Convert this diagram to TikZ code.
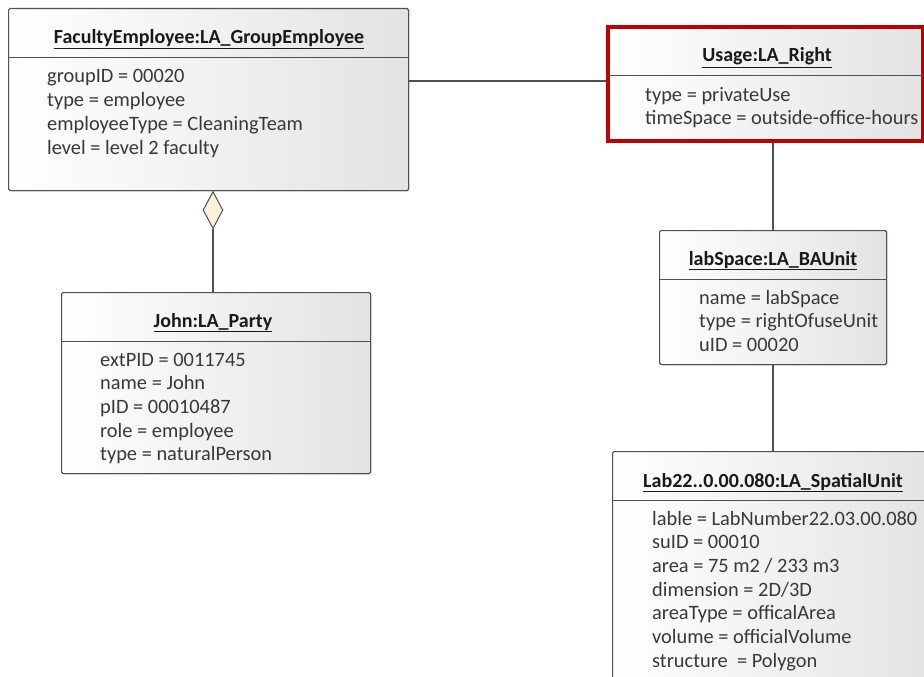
\documentclass[tikz,border=0pt]{standalone}
\usepackage{fontspec}
\setmainfont{Carlito}
\usepackage{xcolor}
\usetikzlibrary{shadows,shapes.geometric}
\definecolor{umlline}{HTML}{505050}
\definecolor{umlred}{HTML}{C00000}
\definecolor{diafill}{HTML}{FAF0DC}

\begin{document}
\begin{tikzpicture}[x=1pt,y=-1pt,
  obj/.style={draw=umlline,line width=1.1pt,rounded corners=1.5pt,left color=white,right color=black!11,
    drop shadow={opacity=0.2,shadow xshift=1.5pt,shadow yshift=-1.5pt},anchor=north west,inner sep=0pt},
  ttl/.style={font=\fontsize{20}{24}\selectfont\bfseries,text=black!90,inner sep=0pt,anchor=base},
  attr/.style={font=\fontsize{20.4}{24}\selectfont,text=black!78,inner sep=0pt,anchor=base west},
  sep/.style={draw=umlline,line width=0.9pt},
  link/.style={draw=umlline,line width=1.1pt}]
\useasboundingbox (0,0) rectangle (924,677);
\clip (0,0) rectangle (924,677);

% FacultyEmployee
\node[obj,minimum width=400pt,minimum height=182pt] (fac) at (8,8) {};
\draw[sep] (fac.west |- 0,57) -- (fac.east |- 0,57);
\node[ttl] (facT) at (209,44) {\underline{FacultyEmployee:LA\_GroupEmployee}};
\foreach \t [count=\i] in {groupID = 00020,type = employee,employeeType = CleaningTeam,level = level 2 faculty}
  \node[attr] (fac-\i) at (47,83+23.7*\i-23.7) {\t};

% Usage
\node[obj,draw=umlred,line width=4pt,rounded corners=0pt,minimum width=315pt,minimum height=114pt] (use) at (606,25) {};
\draw[sep] (use.west |- 0,75) -- (use.east |- 0,75);
\node[ttl] (useT) at (767,62) {\underline{Usage:LA\_Right}};
\foreach \t [count=\i] in {type = privateUse,timeSpace = outside-office-hours}
  \node[attr] (use-\i) at (645,101+23.7*\i-23.7) {\t};

% labSpace
\node[obj,minimum width=227pt,minimum height=134pt] (lab) at (659,230) {};
\draw[sep] (lab.west |- 0,279) -- (lab.east |- 0,279);
\node[ttl] (labT) at (773,265) {\underline{labSpace:LA\_BAUnit}};
\foreach \t [count=\i] in {name = labSpace,type = rightOfuseUnit,uID = 00020}
  \node[attr] (lab-\i) at (699,304+23.7*\i-23.7) {\t};

% John
\node[obj,minimum width=309pt,minimum height=181pt] (john) at (61,292) {};
\draw[sep] (john.west |- 0,341) -- (john.east |- 0,341);
\node[ttl] (johnT) at (213,327) {\underline{John:LA\_Party}};
\foreach \t [count=\i] in {extPID = 0011745,name = John,pID = 00010487,role = employee,type = naturalPerson}
  \node[attr] (john-\i) at (100,366+23.7*\i-23.7) {\t};

% Lab22
\node[obj,minimum width=322pt,minimum height=260pt] (su) at (612,451) {};
\draw[sep] (su.west |- 0,500) -- (su.east |- 0,500);
\node[ttl] (suT) at (773,487) {\underline{Lab22..0.00.080:LA\_SpatialUnit}};
\foreach \t [count=\i] in {lable = LabNumber22.03.00.080,suID = 00010,area = 75 m2 / 233 m3,dimension = 2D/3D,
  areaType = officalArea,volume = officialVolume,structure\ \ = Polygon}
  \node[attr] (su-\i) at (652,525+23.7*\i-23.7) {\t};

% links
\draw[link] (fac.east |- 0,81) -- (use.west |- 0,81);
\draw[link] (use.south -| 773,0) -- (lab.north -| 773,0);
\draw[link] (lab.south -| 773,0) -- (su.north -| 773,0);
\node[diamond,draw=umlline,line width=1pt,fill=diafill,inner sep=0pt,minimum width=20pt,minimum height=37pt,anchor=north] (agg) at (fac.south -| 213,0) {};
\draw[link] (agg.south) -- (john.north -| agg.south);
\end{tikzpicture}
\end{document}
